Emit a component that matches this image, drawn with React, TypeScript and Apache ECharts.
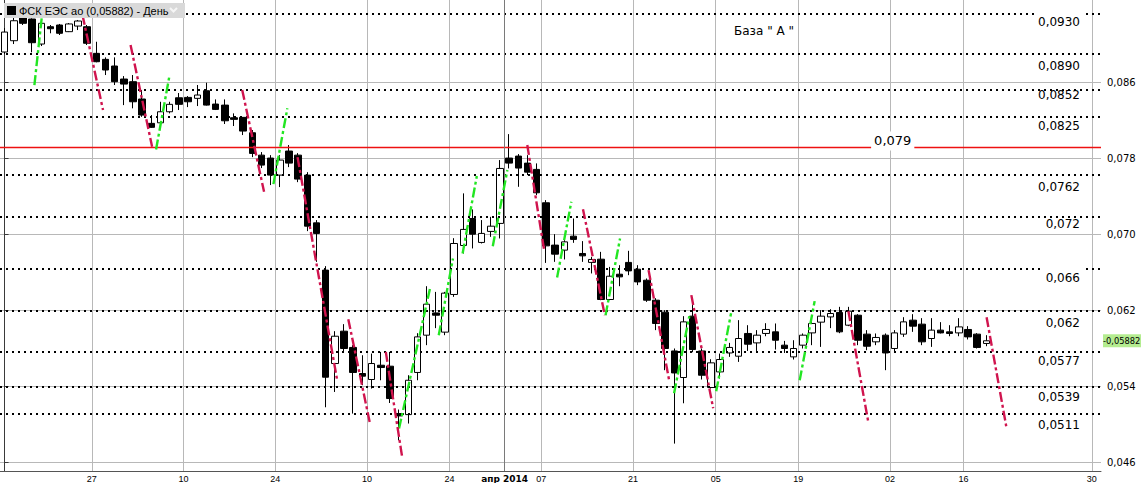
import React, { useEffect, useRef } from 'react';
import * as echarts from 'echarts';

// bar index 0..119 (trading sessions), candles drawn for 0..107
const CATEGORY_COUNT = 120;
const CATEGORIES = Array.from({ length: CATEGORY_COUNT }, (_, i) => String(i));

// [open, close, low, high]
const CANDLES: number[][] = [
  [0.08918, 0.09128, 0.08897, 0.09170],
  [0.09037, 0.09247, 0.09002, 0.09276],
  [0.09289, 0.09220, 0.09202, 0.09307],
  [0.09265, 0.09016, 0.08915, 0.09272],
  [0.09002, 0.09220, 0.08981, 0.09234],
  [0.09184, 0.09163, 0.09115, 0.09202],
  [0.09202, 0.09115, 0.09097, 0.09213],
  [0.09132, 0.09213, 0.09128, 0.09223],
  [0.09191, 0.09244, 0.09149, 0.09255],
  [0.09184, 0.09010, 0.08992, 0.09202],
  [0.08904, 0.08816, 0.08810, 0.09026],
  [0.08841, 0.08729, 0.08676, 0.08862],
  [0.08771, 0.08606, 0.08571, 0.08862],
  [0.08634, 0.08581, 0.08360, 0.08665],
  [0.08606, 0.08395, 0.08326, 0.08676],
  [0.08424, 0.08255, 0.08237, 0.08518],
  [0.08168, 0.08126, 0.08120, 0.08255],
  [0.08174, 0.08290, 0.08115, 0.08395],
  [0.08290, 0.08368, 0.08273, 0.08395],
  [0.08437, 0.08368, 0.08308, 0.08487],
  [0.08441, 0.08395, 0.08339, 0.08455],
  [0.08431, 0.08466, 0.08350, 0.08571],
  [0.08511, 0.08360, 0.08355, 0.08595],
  [0.08371, 0.08315, 0.08308, 0.08420],
  [0.08360, 0.08195, 0.08161, 0.08420],
  [0.08227, 0.08210, 0.08140, 0.08273],
  [0.08231, 0.08087, 0.08045, 0.08234],
  [0.08069, 0.07852, 0.07813, 0.08098],
  [0.07834, 0.07729, 0.07698, 0.07866],
  [0.07803, 0.07624, 0.07519, 0.07834],
  [0.07624, 0.07782, 0.07498, 0.07834],
  [0.07877, 0.07750, 0.07708, 0.07940],
  [0.07834, 0.07582, 0.07550, 0.07855],
  [0.07624, 0.07087, 0.07035, 0.07655],
  [0.07122, 0.07011, 0.06712, 0.07151],
  [0.06625, 0.05499, 0.05183, 0.06667],
  [0.05643, 0.05930, 0.05344, 0.05983],
  [0.05983, 0.05801, 0.05765, 0.06057],
  [0.05812, 0.05549, 0.05117, 0.05836],
  [0.05538, 0.05510, 0.05415, 0.05730],
  [0.05475, 0.05643, 0.05380, 0.05748],
  [0.05625, 0.05601, 0.05467, 0.05765],
  [0.05615, 0.05275, 0.05228, 0.05765],
  [0.05117, 0.05092, 0.04836, 0.05159],
  [0.05106, 0.05467, 0.05012, 0.05520],
  [0.05549, 0.05923, 0.05467, 0.05962],
  [0.05941, 0.06267, 0.05836, 0.06456],
  [0.06175, 0.06151, 0.06015, 0.06396],
  [0.05973, 0.06383, 0.05941, 0.06396],
  [0.06369, 0.06905, 0.06344, 0.06961],
  [0.06884, 0.07053, 0.06800, 0.07432],
  [0.07168, 0.07003, 0.06853, 0.07263],
  [0.06916, 0.07011, 0.06905, 0.07151],
  [0.07032, 0.07087, 0.06975, 0.07185],
  [0.07116, 0.07694, 0.06958, 0.07782],
  [0.07803, 0.07750, 0.07694, 0.08055],
  [0.07824, 0.07698, 0.07501, 0.07845],
  [0.07750, 0.07655, 0.07624, 0.07834],
  [0.07684, 0.07438, 0.07414, 0.07747],
  [0.07333, 0.06880, 0.06701, 0.07361],
  [0.06888, 0.06793, 0.06712, 0.07003],
  [0.06835, 0.06922, 0.06737, 0.06940],
  [0.06982, 0.06948, 0.06912, 0.07168],
  [0.06800, 0.06775, 0.06712, 0.06930],
  [0.06706, 0.06737, 0.06590, 0.06764],
  [0.06740, 0.06316, 0.06309, 0.06817],
  [0.06316, 0.06561, 0.06309, 0.06659],
  [0.06582, 0.06554, 0.06456, 0.06677],
  [0.06706, 0.06617, 0.06572, 0.06828],
  [0.06635, 0.06501, 0.06467, 0.06677],
  [0.06519, 0.06309, 0.06291, 0.06537],
  [0.06309, 0.06064, 0.05994, 0.06330],
  [0.06183, 0.05801, 0.05573, 0.06204],
  [0.05775, 0.05544, 0.04801, 0.05801],
  [0.05496, 0.06081, 0.05225, 0.06141],
  [0.06141, 0.05790, 0.05762, 0.06281],
  [0.05775, 0.05520, 0.05475, 0.05801],
  [0.05391, 0.05650, 0.05380, 0.05688],
  [0.05555, 0.05685, 0.05485, 0.05748],
  [0.05754, 0.05812, 0.05713, 0.05860],
  [0.05720, 0.05906, 0.05660, 0.06099],
  [0.05959, 0.05846, 0.05775, 0.06046],
  [0.05860, 0.05941, 0.05775, 0.05994],
  [0.05959, 0.06001, 0.05930, 0.06067],
  [0.05976, 0.05888, 0.05790, 0.06064],
  [0.05836, 0.05801, 0.05754, 0.05881],
  [0.05713, 0.05801, 0.05685, 0.05888],
  [0.05836, 0.05941, 0.05801, 0.05959],
  [0.05965, 0.06064, 0.05836, 0.06141],
  [0.06078, 0.06141, 0.05818, 0.06204],
  [0.06133, 0.06169, 0.06015, 0.06214],
  [0.06180, 0.05976, 0.05962, 0.06239],
  [0.06046, 0.06193, 0.06036, 0.06239],
  [0.06151, 0.05888, 0.05836, 0.06162],
  [0.05952, 0.05825, 0.05783, 0.05994],
  [0.05871, 0.05917, 0.05836, 0.05959],
  [0.05941, 0.05754, 0.05573, 0.05959],
  [0.05801, 0.05965, 0.05765, 0.05994],
  [0.05952, 0.06081, 0.05923, 0.06130],
  [0.06099, 0.06036, 0.05976, 0.06162],
  [0.06057, 0.05871, 0.05836, 0.06120],
  [0.05906, 0.05994, 0.05818, 0.06120],
  [0.05994, 0.05965, 0.05959, 0.06078],
  [0.05976, 0.05959, 0.05930, 0.06046],
  [0.05965, 0.06028, 0.05930, 0.06120],
  [0.06001, 0.05923, 0.05896, 0.06036],
  [0.05952, 0.05812, 0.05801, 0.05962],
  [0.05854, 0.05882, 0.05825, 0.05941],
];

// date labels: [bar index where the period starts, text]
const DATE_TICKS: [number, string][] = [
  [10, '27'], [20, '10'], [30, '24'], [40, '10'], [49, '24'], [55, 'апр 2014'],
  [59, '07'], [69, '21'], [78, '05'], [87, '19'], [97, '02'], [105, '16'], [119, '30'],
];
const MONTH_TICK = 55;

// price axis
const Y_MIN = 0.04513;
const Y_MAX = 0.09465;
const PRICE_TICKS = [0.046, 0.054, 0.062, 0.070, 0.078, 0.086];

// horizontal support / resistance levels (dotted)
const LEVEL_VALUES = [0.09325, 0.0890, 0.0852, 0.0824, 0.0763, 0.0719, 0.0664, 0.0620, 0.0577, 0.0540, 0.0511];
const LEVEL_LABELS = ['0,0930', '0,0890', '0,0852', '0,0825', '0,0762', '0,072', '0,066', '0,062', '0,0577', '0,0539', '0,0511'];
const LEVEL_LABEL_GAP = [3, 6, -1, 3, 6, 2, 3, 6, 4, 4, 5];
const LEVEL_BOXED = [true, false, false, false, false, false, true, false, false, false, false];

// red base line
const BASE_VALUE = 0.0792;
const BASE_LABEL = '0,079';
const BASE_LABEL_AT = 96.8;
const BASE_TITLE = 'База " А "';

const LAST_PRICE = 0.05882;
const TITLE = 'ФСК ЕЭС ао (0,05882) - День';

// dashed trend strokes: [[barIndex, price], [barIndex, price]]
const GREEN_SEGMENTS: number[][][] = [
  [[3.25, 0.08571], [4.14, 0.09360]],
  [[16.51, 0.07894], [17.95, 0.08658]],
  [[29.30, 0.07529], [30.82, 0.08326]],
  [[42.99, 0.04959], [46.42, 0.06456]],
  [[47.32, 0.05941], [48.87, 0.06748]],
  [[49.92, 0.06800], [51.47, 0.07614]],
  [[53.21, 0.06877], [54.80, 0.07677]],
  [[60.22, 0.06548], [61.77, 0.07343]],
  [[65.50, 0.06151], [67.08, 0.06958]],
  [[72.97, 0.05331], [74.63, 0.06141]],
  [[77.56, 0.05352], [79.18, 0.06172]],
  [[86.66, 0.05467], [88.29, 0.06299]],
];
const RED_SEGMENTS: number[][][] = [
  [[8.49, 0.09307], [10.73, 0.08308]],
  [[13.73, 0.08992], [16.08, 0.07922]],
  [[25.90, 0.08518], [28.28, 0.07448]],
  [[31.93, 0.07813], [36.27, 0.05457]],
  [[37.46, 0.06109], [39.84, 0.05005]],
  [[41.55, 0.05765], [43.34, 0.04654]],
  [[56.97, 0.07940], [58.81, 0.06835]],
  [[63.04, 0.07266], [65.42, 0.06151]],
  [[70.19, 0.06625], [72.43, 0.05467]],
  [[74.85, 0.06362], [77.23, 0.05173]],
  [[91.97, 0.06193], [94.14, 0.05026]],
  [[107.03, 0.06130], [109.17, 0.04984]],
];

const GREEN = '#22e622';
const RED = '#d0144e';
const DASH = [10, 3, 3, 3];

function buildOption() {
  const tickVals = DATE_TICKS.map(([k]) => k - 0.5);
  const labelFor = (v: number) => {
    const k = Math.round(v + 0.5);
    const t = DATE_TICKS.find(([i]) => i === k);
    if (!t) return '';
    return k === MONTH_TICK ? '{b|' + t[1] + '}' : t[1];
  };

  const segSeries = (segs: number[][][], color: string) =>
    segs.map((seg) => ({
      type: 'line',
      xAxisIndex: 1,
      yAxisIndex: 0,
      data: seg,
      showSymbol: false,
      symbol: 'none',
      silent: true,
      z: 5,
      lineStyle: { color, width: 2.4, type: DASH },
    }));

  return {
    animation: false,
    backgroundColor: '#ffffff',
    textStyle: { fontFamily: 'DejaVu Sans' },
    grid: { left: -6.3, top: 0, width: 1107.3, height: 471, containLabel: false },
    xAxis: [
      {
        type: 'category',
        data: CATEGORIES,
        boundaryGap: true,
        show: false,
      },
      {
        type: 'value',
        min: -0.5,
        max: 119.5,
        position: 'bottom',
        axisLine: { show: true, onZero: false, lineStyle: { color: '#555555', width: 1 } },
        axisTick: { show: false, customValues: tickVals },
        axisLabel: {
          customValues: tickVals,
          formatter: labelFor,
          margin: 3,
          fontSize: 9,
          color: '#000',
          fontFamily: 'Liberation Sans',
          rich: { b: { fontWeight: 'bold', fontSize: 9, fontFamily: 'DejaVu Sans', color: '#000' } },
        },
        splitLine: { show: true, lineStyle: { color: '#b8b8b8', width: 1 } },
      },
    ],
    yAxis: {
      type: 'value',
      position: 'right',
      min: Y_MIN,
      max: Y_MAX,
      axisLine: { show: true, lineStyle: { color: '#3a3a3a', width: 1 } },
      axisTick: { show: true, length: 4, customValues: PRICE_TICKS, lineStyle: { color: '#3a3a3a' } },
      axisLabel: {
        customValues: PRICE_TICKS,
        formatter: (v: number) => v.toFixed(3).replace('.', ','),
        margin: 6,
        fontSize: 10,
        color: '#000',
        fontFamily: 'DejaVu Sans',
      },
      splitLine: { show: true, lineStyle: { color: '#b8b8b8', width: 1 } },
    },
    graphic: [
      {
        type: 'group',
        left: 4,
        top: 3,
        z: 100,
        children: [
          { type: 'rect', z: 100, shape: { x: 0, y: 0, width: 181, height: 15 }, style: { fill: '#d9d9d9' } },
          { type: 'rect', z: 101, shape: { x: 3, y: 3, width: 9, height: 9 }, style: { fill: '#000' } },
          {
            type: 'text',
            z: 101,
            x: 15,
            y: 7.5,
            style: { text: TITLE, fill: '#000', font: '11px "Liberation Sans"', verticalAlign: 'middle' },
          },
          {
            type: 'polyline',
            z: 101,
            shape: { points: [[166, 5], [169.5, 8.5], [173, 5]] },
            style: { stroke: '#f6f6f6', lineWidth: 2, fill: 'none' },
          },
        ],
      },
      {
        type: 'text',
        left: 734,
        top: 25,
        z: 100,
        style: { text: BASE_TITLE, fill: '#000', font: '12px "DejaVu Sans"' },
      },
    ],
    series: [
      {
        type: 'line',
        name: 'levels',
        xAxisIndex: 1,
        yAxisIndex: 0,
        data: [],
        silent: true,
        z: 1,
        markLine: {
          silent: true,
          precision: 6,
          symbol: ['none', 'none'],
          animation: false,
          lineStyle: { type: [2, 4], color: '#000', width: 2 },
          label: {
            show: true,
            position: 'insideEndBottom',
            formatter: (p: any) => p.name,
            fontSize: 12,
            fontFamily: 'DejaVu Sans',
            color: '#000',
          },
          data: LEVEL_VALUES.map((v, i) => ({
            yAxis: v,
            name: LEVEL_LABELS[i],
            label: LEVEL_BOXED[i]
              ? {
                  distance: [17, LEVEL_LABEL_GAP[i] - 5],
                  backgroundColor: '#ffffff',
                  padding: [5, 4, 0, 4],
                }
              : { distance: [21, LEVEL_LABEL_GAP[i]] },
          })),
        },
      },
      {
        type: 'line',
        name: 'base',
        xAxisIndex: 1,
        yAxisIndex: 0,
        data: [],
        silent: true,
        z: 2,
        markLine: {
          silent: true,
          precision: 6,
          symbol: ['none', 'none'],
          animation: false,
          lineStyle: { type: 'solid', color: '#ee1111', width: 1.3 },
          label: { show: false },
          data: [{ yAxis: BASE_VALUE }],
        },
        markPoint: {
          silent: true,
          symbol: 'rect',
          symbolSize: 1,
          itemStyle: { color: 'rgba(0,0,0,0)' },
          label: {
            show: true,
            position: 'inside',
            offset: [0, -6],
            formatter: BASE_LABEL,
            fontSize: 13,
            fontFamily: 'DejaVu Sans',
            color: '#000',
            backgroundColor: '#ffffff',
            padding: [3, 3, 3, 3],
          },
          data: [{ coord: [BASE_LABEL_AT, BASE_VALUE] }],
        },
      },
      {
        type: 'line',
        name: 'month',
        xAxisIndex: 1,
        yAxisIndex: 0,
        data: [],
        silent: true,
        z: 1,
        markLine: {
          silent: true,
          precision: 6,
          symbol: ['none', 'none'],
          animation: false,
          lineStyle: { type: 'solid', color: '#7a7a7a', width: 1 },
          label: { show: false },
          data: [{ xAxis: MONTH_TICK - 0.5 }],
        },
      },
      {
        type: 'candlestick',
        xAxisIndex: 0,
        yAxisIndex: 0,
        data: CANDLES,
        barWidth: 7,
        z: 3,
        silent: true,
        itemStyle: {
          color: '#ffffff',
          color0: '#000000',
          borderColor: '#000000',
          borderColor0: '#000000',
          borderColorDoji: '#000000',
          borderWidth: 1,
        },
      },
      ...segSeries(GREEN_SEGMENTS, GREEN),
      ...segSeries(RED_SEGMENTS, RED),
      {
        type: 'line',
        name: 'last',
        xAxisIndex: 1,
        yAxisIndex: 0,
        data: [],
        silent: true,
        z: 10,
        markLine: {
          silent: true,
          precision: 6,
          symbol: ['none', 'none'],
          animation: false,
          lineStyle: { width: 0, color: 'rgba(0,0,0,0)' },
          label: {
            show: true,
            position: 'end',
            distance: 2,
            formatter: '-' + LAST_PRICE.toFixed(5).replace('.', ','),
            fontSize: 8.3,
            fontFamily: 'DejaVu Sans',
            color: '#000',
            backgroundColor: '#b4ec90',
            padding: [3, 1, 2, 0],
          },
          data: [{ yAxis: LAST_PRICE }],
        },
      },
    ],
  };
}

export default function App() {
  const ref = useRef<HTMLDivElement>(null);
  useEffect(() => {
    if (!ref.current) return;
    const chart = echarts.init(ref.current, null, { renderer: 'svg' });
    chart.setOption(buildOption() as any);
    return () => chart.dispose();
  }, []);
  return (
    <div
      ref={ref}
      style={{ position: 'fixed', left: 0, top: 0, width: 1141, height: 483, background: '#fff' }}
    />
  );
}
